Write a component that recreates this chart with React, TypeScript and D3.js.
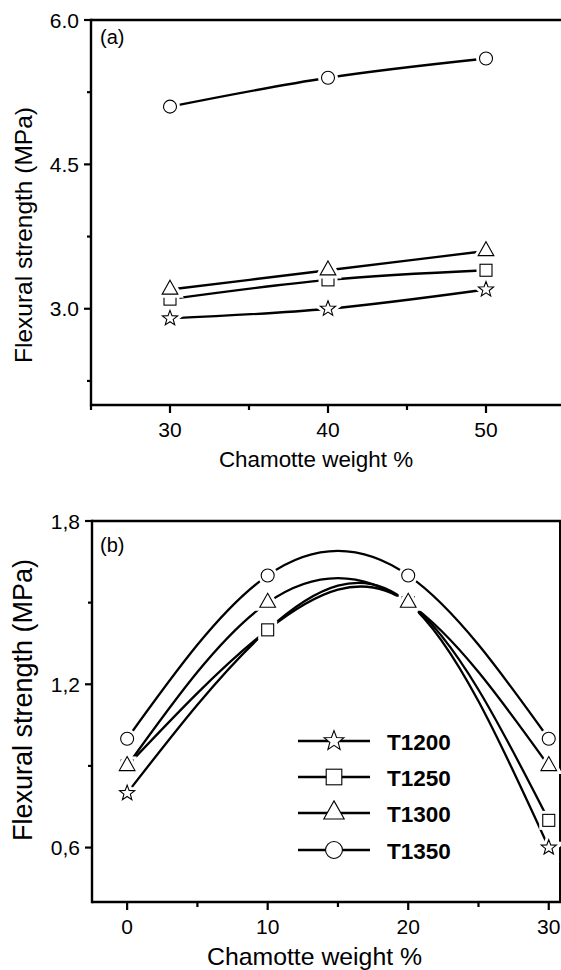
import React from "react";
import * as d3 from "d3";

// ---------- data ----------
const seriesNames = ["T1200", "T1250", "T1300", "T1350"];
const seriesShapes = ["star", "square", "triangle", "circle"];

// panel (a)
const topX = [30, 40, 50];
const topT1200 = [2.9, 3.0, 3.2];
const topT1250 = [3.1, 3.3, 3.4];
const topT1300 = [3.2, 3.4, 3.6];
const topT1350 = [5.1, 5.4, 5.6];
const topYMajor = [3.0, 4.5, 6.0];
const topYMajorLabels = ["3.0", "4.5", "6.0"];
const topYMinor = [2.25, 3.75, 5.25];
const topXMajor = [30, 40, 50];
const topXMinor = [25, 35, 45];

// panel (b)
const botX = [0, 10, 20, 30];
const botT1200 = [0.8, 1.4, 1.5, 0.6];
const botT1250 = [0.9, 1.4, 1.5, 0.7];
const botT1300 = [0.9, 1.5, 1.5, 0.9];
const botT1350 = [1.0, 1.6, 1.6, 1.0];
const botYMajor = [0.6, 1.2, 1.8];
const botYMajorLabels = ["0,6", "1,2", "1,8"];
const botYMinor = [0.9, 1.5];
const botXMajor = [0, 10, 20, 30];
const botXMinor = [5, 15, 25];

const FONT = "'Liberation Sans', Arial, Helvetica, sans-serif";

function starPath(R: number, ratio = 0.42) {
  const pts: string[] = [];
  for (let i = 0; i < 10; i++) {
    const r = i % 2 === 0 ? R : R * ratio;
    const a = -Math.PI / 2 + (i * Math.PI) / 5;
    pts.push(`${(r * Math.cos(a)).toFixed(2)},${(r * Math.sin(a)).toFixed(2)}`);
  }
  return "M" + pts.join("L") + "Z";
}

function Marker({ shape, x, y, scale = 1, halo = true }: any) {
  const common = { fill: "#fff", stroke: "#000", strokeWidth: 1.1 };
  const haloProps = { fill: "#fff", stroke: "#fff", strokeWidth: 7 };
  let el: any = (p: any) => null;
  if (shape === "circle") {
    const r = 6.5 * scale;
    el = (p: any) => <circle cx={0} cy={0} r={r} {...p} />;
  } else if (shape === "square") {
    const s = 12 * scale;
    el = (p: any) => <rect x={-s / 2} y={-s / 2} width={s} height={s} {...p} />;
  } else if (shape === "triangle") {
    const w = 15.7 * scale, h = 14 * scale;
    const d = `M0,${(-2 * h) / 3}L${w / 2},${h / 3}L${-w / 2},${h / 3}Z`;
    el = (p: any) => <path d={d} {...p} />;
  } else {
    const d = starPath(8 * scale);
    el = (p: any) => <path d={d} {...p} />;
  }
  return (
    <g transform={`translate(${x},${y})`}>
      {halo && el(haloProps)}
      {el(common)}
    </g>
  );
}

function Panel({
  xDomain, xRange, yDomain, yRange, xs, ys, yMajor, yMajorLabels, yMinor, xMajor, xMinor,
  panelLabel, labelPos, xTitleProps, yTitleProps, rightBorder, rightEnd,
}: any) {
  const x = d3.scaleLinear().domain(xDomain).range(xRange);
  const y = d3.scaleLinear().domain(yDomain).range(yRange);
  const line = d3.line<number>()
    .x((_, i) => x(xs[i]))
    .y((d) => y(d))
    .curve(d3.curveNatural);
  const left = xRange[0];
  const bottom = yRange[0];
  const top = yRange[1];
  return (
    <g fontFamily={FONT}>
      {/* frame */}
      <line x1={left} x2={rightEnd} y1={top} y2={top} stroke="#000" strokeWidth={2.6} />
      <line x1={left} x2={rightEnd} y1={bottom} y2={bottom} stroke="#000" strokeWidth={2.4} />
      <line x1={left} x2={left} y1={top - 1.3} y2={bottom + 1.2} stroke="#000" strokeWidth={2.4} />
      {rightBorder && (
        <line x1={rightEnd - 1} x2={rightEnd - 1} y1={top} y2={bottom} stroke="#000" strokeWidth={2} />
      )}
      {/* y ticks */}
      {yMajor.map((v: number, i: number) => (
        <g key={"ym" + i}>
          <line x1={left - 7} x2={left} y1={y(v)} y2={y(v)} stroke="#000" strokeWidth={2.2} />
          <text x={left - 12} y={y(v) + 7.5} fontSize={21} textAnchor="end">{yMajorLabels[i]}</text>
        </g>
      ))}
      {yMinor.map((v: number, i: number) => (
        <line key={"yn" + i} x1={left - 4} x2={left} y1={y(v)} y2={y(v)} stroke="#000" strokeWidth={2.2} />
      ))}
      {/* x ticks */}
      {xMajor.map((v: number, i: number) => (
        <g key={"xm" + i}>
          <line x1={x(v)} x2={x(v)} y1={bottom} y2={bottom + 8} stroke="#000" strokeWidth={2.2} />
          <text x={x(v)} y={bottom + 31.7} fontSize={21} textAnchor="middle">{v}</text>
        </g>
      ))}
      {xMinor.map((v: number, i: number) => (
        <line key={"xn" + i} x1={x(v)} x2={x(v)} y1={bottom} y2={bottom + 5} stroke="#000" strokeWidth={2.2} />
      ))}
      {/* titles */}
      <text x={xTitleProps.x} y={xTitleProps.y} fontSize={xTitleProps.size} textAnchor="middle">
        Chamotte weight %
      </text>
      <text
        transform={`translate(${yTitleProps.x},${yTitleProps.y}) rotate(-90)`}
        fontSize={yTitleProps.size}
        textAnchor="middle"
      >
        Flexural strength (MPa)
      </text>
      <text x={labelPos[0]} y={labelPos[1]} fontSize={20}>{panelLabel}</text>
      {/* lines */}
      {ys.map((s: number[], k: number) => (
        <path key={"l" + k} d={line(s) || ""} fill="none" stroke="#000" strokeWidth={2.3} />
      ))}
      {/* markers */}
      {ys.map((s: number[], k: number) =>
        s.map((v: number, i: number) => (
          <Marker key={`m${k}-${i}`} shape={seriesShapes[k]} x={x(xs[i])} y={y(v)} />
        ))
      )}
    </g>
  );
}

const legendRows = [741, 777, 813, 850];

export default function App() {
  return (
    <svg
      width={561}
      height={970}
      style={{ position: "absolute", left: 0, top: 0, background: "#fff" }}
    >
      <rect width={561} height={970} fill="#fff" />
      <Panel
        xDomain={[25, 55]}
        xRange={[91, 565]}
        yDomain={[2, 6]}
        yRange={[405, 20]}
        xs={topX}
        ys={[topT1200, topT1250, topT1300, topT1350]}
        yMajor={topYMajor}
        yMajorLabels={topYMajorLabels}
        yMinor={topYMinor}
        xMajor={topXMajor}
        xMinor={topXMinor}
        panelLabel="(a)"
        labelPos={[100, 44]}
        xTitleProps={{ x: 316, y: 467, size: 22.4 }}
        yTitleProps={{ x: 32, y: 235, size: 24.5 }}
        rightBorder={false}
        rightEnd={561}
      />
      <Panel
        xDomain={[-2.5, 30.8]}
        xRange={[92, 560]}
        yDomain={[0.4, 1.8]}
        yRange={[902, 521]}
        xs={botX}
        ys={[botT1200, botT1250, botT1300, botT1350]}
        yMajor={botYMajor}
        yMajorLabels={botYMajorLabels}
        yMinor={botYMinor}
        xMajor={botXMajor}
        xMinor={botXMinor}
        panelLabel="(b)"
        labelPos={[100, 552]}
        xTitleProps={{ x: 314.5, y: 964.5, size: 24.8 }}
        yTitleProps={{ x: 32, y: 700, size: 27 }}
        rightBorder={true}
        rightEnd={561}
      />
      {/* legend */}
      <g fontFamily={FONT}>
        {seriesNames.map((name, k) => (
          <g key={name}>
            <line x1={298} x2={370} y1={legendRows[k]} y2={legendRows[k]} stroke="#000" strokeWidth={2.3} />
            <Marker shape={seriesShapes[k]} x={334} y={legendRows[k]} scale={1.3} halo={false} />
            <text x={387} y={legendRows[k] + 8.5} fontSize={22.5} fontWeight="bold">{name}</text>
          </g>
        ))}
      </g>
    </svg>
  );
}
